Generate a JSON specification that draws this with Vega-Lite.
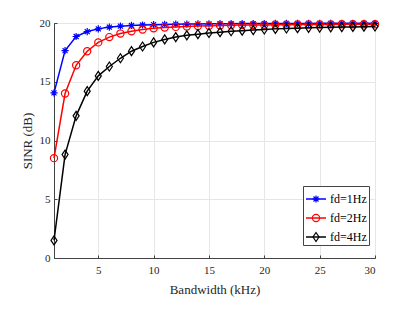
{
  "$schema": "https://vega.github.io/schema/vega-lite/v6.json",
  "width": 321,
  "height": 235,
  "autosize": {"type": "none"},
  "padding": {"left": 54, "top": 23, "right": 40, "bottom": 54},
  "config": {
    "font": "Liberation Serif",
    "view": {"stroke": "#444", "strokeWidth": 1},
    "axis": {
      "grid": true,
      "gridColor": "#e6e6e6",
      "gridWidth": 1,
      "domainColor": "#444",
      "tickColor": "#444",
      "tickSize": -3,
      "labelFont": "Liberation Serif",
      "titleFont": "Liberation Serif",
      "labelFontSize": 11,
      "labelColor": "#262626",
      "titleFontSize": 13,
      "titleFontWeight": "normal",
      "titleColor": "#262626"
    },
    "legend": {
      "orient": "none",
      "legendX": 249,
      "legendY": 163,
      "padding": 2,
      "rowPadding": 2,
      "symbolSize": 400,
      "labelFont": "Liberation Serif",
      "labelFontSize": 12,
      "labelColor": "#000",
      "labelOffset": 3,
      "title": null
    }
  },
  "data": {
    "values": [
      {"bw":1,"sinr":14.05,"fd":"fd=1Hz"},{"bw":2,"sinr":17.65,"fd":"fd=1Hz"},{"bw":3,"sinr":18.85,"fd":"fd=1Hz"},{"bw":4,"sinr":19.27,"fd":"fd=1Hz"},{"bw":5,"sinr":19.5,"fd":"fd=1Hz"},{"bw":6,"sinr":19.65,"fd":"fd=1Hz"},{"bw":7,"sinr":19.73,"fd":"fd=1Hz"},{"bw":8,"sinr":19.79,"fd":"fd=1Hz"},{"bw":9,"sinr":19.83,"fd":"fd=1Hz"},{"bw":10,"sinr":19.86,"fd":"fd=1Hz"},
      {"bw":11,"sinr":19.88,"fd":"fd=1Hz"},{"bw":12,"sinr":19.9,"fd":"fd=1Hz"},{"bw":13,"sinr":19.91,"fd":"fd=1Hz"},{"bw":14,"sinr":19.92,"fd":"fd=1Hz"},{"bw":15,"sinr":19.93,"fd":"fd=1Hz"},{"bw":16,"sinr":19.94,"fd":"fd=1Hz"},{"bw":17,"sinr":19.94,"fd":"fd=1Hz"},{"bw":18,"sinr":19.95,"fd":"fd=1Hz"},{"bw":19,"sinr":19.95,"fd":"fd=1Hz"},{"bw":20,"sinr":19.95,"fd":"fd=1Hz"},
      {"bw":21,"sinr":19.96,"fd":"fd=1Hz"},{"bw":22,"sinr":19.96,"fd":"fd=1Hz"},{"bw":23,"sinr":19.96,"fd":"fd=1Hz"},{"bw":24,"sinr":19.96,"fd":"fd=1Hz"},{"bw":25,"sinr":19.97,"fd":"fd=1Hz"},{"bw":26,"sinr":19.97,"fd":"fd=1Hz"},{"bw":27,"sinr":19.97,"fd":"fd=1Hz"},{"bw":28,"sinr":19.97,"fd":"fd=1Hz"},{"bw":29,"sinr":19.97,"fd":"fd=1Hz"},{"bw":30,"sinr":19.97,"fd":"fd=1Hz"},
      {"bw":1,"sinr":8.5,"fd":"fd=2Hz"},{"bw":2,"sinr":14.0,"fd":"fd=2Hz"},{"bw":3,"sinr":16.4,"fd":"fd=2Hz"},{"bw":4,"sinr":17.6,"fd":"fd=2Hz"},{"bw":5,"sinr":18.35,"fd":"fd=2Hz"},{"bw":6,"sinr":18.8,"fd":"fd=2Hz"},{"bw":7,"sinr":19.1,"fd":"fd=2Hz"},{"bw":8,"sinr":19.3,"fd":"fd=2Hz"},{"bw":9,"sinr":19.45,"fd":"fd=2Hz"},{"bw":10,"sinr":19.55,"fd":"fd=2Hz"},
      {"bw":11,"sinr":19.62,"fd":"fd=2Hz"},{"bw":12,"sinr":19.67,"fd":"fd=2Hz"},{"bw":13,"sinr":19.71,"fd":"fd=2Hz"},{"bw":14,"sinr":19.74,"fd":"fd=2Hz"},{"bw":15,"sinr":19.77,"fd":"fd=2Hz"},{"bw":16,"sinr":19.79,"fd":"fd=2Hz"},{"bw":17,"sinr":19.81,"fd":"fd=2Hz"},{"bw":18,"sinr":19.82,"fd":"fd=2Hz"},{"bw":19,"sinr":19.83,"fd":"fd=2Hz"},{"bw":20,"sinr":19.84,"fd":"fd=2Hz"},
      {"bw":21,"sinr":19.85,"fd":"fd=2Hz"},{"bw":22,"sinr":19.86,"fd":"fd=2Hz"},{"bw":23,"sinr":19.87,"fd":"fd=2Hz"},{"bw":24,"sinr":19.87,"fd":"fd=2Hz"},{"bw":25,"sinr":19.88,"fd":"fd=2Hz"},{"bw":26,"sinr":19.88,"fd":"fd=2Hz"},{"bw":27,"sinr":19.89,"fd":"fd=2Hz"},{"bw":28,"sinr":19.89,"fd":"fd=2Hz"},{"bw":29,"sinr":19.9,"fd":"fd=2Hz"},{"bw":30,"sinr":19.9,"fd":"fd=2Hz"},
      {"bw":1,"sinr":1.5,"fd":"fd=4Hz"},{"bw":2,"sinr":8.8,"fd":"fd=4Hz"},{"bw":3,"sinr":12.1,"fd":"fd=4Hz"},{"bw":4,"sinr":14.2,"fd":"fd=4Hz"},{"bw":5,"sinr":15.5,"fd":"fd=4Hz"},{"bw":6,"sinr":16.3,"fd":"fd=4Hz"},{"bw":7,"sinr":17.0,"fd":"fd=4Hz"},{"bw":8,"sinr":17.6,"fd":"fd=4Hz"},{"bw":9,"sinr":18.0,"fd":"fd=4Hz"},{"bw":10,"sinr":18.35,"fd":"fd=4Hz"},
      {"bw":11,"sinr":18.6,"fd":"fd=4Hz"},{"bw":12,"sinr":18.8,"fd":"fd=4Hz"},{"bw":13,"sinr":18.95,"fd":"fd=4Hz"},{"bw":14,"sinr":19.05,"fd":"fd=4Hz"},{"bw":15,"sinr":19.15,"fd":"fd=4Hz"},{"bw":16,"sinr":19.22,"fd":"fd=4Hz"},{"bw":17,"sinr":19.3,"fd":"fd=4Hz"},{"bw":18,"sinr":19.35,"fd":"fd=4Hz"},{"bw":19,"sinr":19.4,"fd":"fd=4Hz"},{"bw":20,"sinr":19.45,"fd":"fd=4Hz"},
      {"bw":21,"sinr":19.5,"fd":"fd=4Hz"},{"bw":22,"sinr":19.53,"fd":"fd=4Hz"},{"bw":23,"sinr":19.56,"fd":"fd=4Hz"},{"bw":24,"sinr":19.59,"fd":"fd=4Hz"},{"bw":25,"sinr":19.61,"fd":"fd=4Hz"},{"bw":26,"sinr":19.63,"fd":"fd=4Hz"},{"bw":27,"sinr":19.65,"fd":"fd=4Hz"},{"bw":28,"sinr":19.67,"fd":"fd=4Hz"},{"bw":29,"sinr":19.69,"fd":"fd=4Hz"},{"bw":30,"sinr":19.7,"fd":"fd=4Hz"}
    ]
  },
  "encoding": {
    "x": {
      "field": "bw", "type": "quantitative",
      "scale": {"domain": [1, 30], "nice": false},
      "axis": {"values": [5, 10, 15, 20, 25, 30], "title": "Bandwidth (kHz)", "labelPadding": 9, "titlePadding": 8}
    },
    "y": {
      "field": "sinr", "type": "quantitative",
      "scale": {"domain": [0, 20], "nice": false},
      "axis": {"values": [0, 5, 10, 15, 20], "title": "SINR (dB)", "labelPadding": 7, "titlePadding": 5}
    }
  },
  "layer": [
    {
      "transform": [{"filter": "datum.fd == 'fd=1Hz'"}],
      "mark": {"type": "line", "strokeWidth": 1.5},
      "encoding": {"color": {"field": "fd", "type": "nominal", "scale": {"range": ["#0000ff", "#ff0000", "#000000"]}, "legend": {"fillColor": "#ffffff", "strokeColor": "#444", "zindex": 1, "labelOpacity": 0, "symbolStrokeWidth": 1.5}}}
    },
    {
      "transform": [{"filter": "datum.fd == 'fd=1Hz'"}],
      "mark": {"type": "point", "filled": false, "strokeWidth": 1.2, "size": 400, "opacity": 1},
      "encoding": {
        "stroke": {"field": "fd", "type": "nominal", "scale": {"domain": ["fd=1Hz", "fd=2Hz", "fd=4Hz"], "range": ["#0000ff", "#ff0000", "#000000"]}, "legend": {"zindex": 2, "symbolStrokeWidth": 1.2}},
        "shape": {"field": "fd", "type": "nominal", "scale": {"domain": ["fd=1Hz", "fd=2Hz", "fd=4Hz"], "range": ["M-0.36,0L0.36,0M0,-0.36L0,0.36M-0.25,-0.25L0.25,0.25M-0.25,0.25L0.25,-0.25", "M0.36,0A0.36,0.36,0,1,1,-0.36,0A0.36,0.36,0,1,1,0.36,0Z", "M0,-0.45L0.3,0L0,0.45L-0.3,0Z"]}, "legend": {"zindex": 2, "symbolStrokeWidth": 1.2}}
      }
    },
    {
      "transform": [{"filter": "datum.fd == 'fd=2Hz'"}],
      "mark": {"type": "line", "strokeWidth": 1.5},
      "encoding": {"color": {"field": "fd", "type": "nominal"}}
    },
    {
      "transform": [{"filter": "datum.fd == 'fd=2Hz'"}],
      "mark": {"type": "point", "filled": false, "strokeWidth": 1.2, "size": 400, "opacity": 1},
      "encoding": {"stroke": {"field": "fd", "type": "nominal"}, "shape": {"field": "fd", "type": "nominal"}}
    },
    {
      "transform": [{"filter": "datum.fd == 'fd=4Hz'"}],
      "mark": {"type": "line", "strokeWidth": 1.5},
      "encoding": {"color": {"field": "fd", "type": "nominal"}}
    },
    {
      "transform": [{"filter": "datum.fd == 'fd=4Hz'"}],
      "mark": {"type": "point", "filled": false, "strokeWidth": 1.2, "size": 400, "opacity": 1},
      "encoding": {"stroke": {"field": "fd", "type": "nominal"}, "shape": {"field": "fd", "type": "nominal"}}
    }
  ]
}
